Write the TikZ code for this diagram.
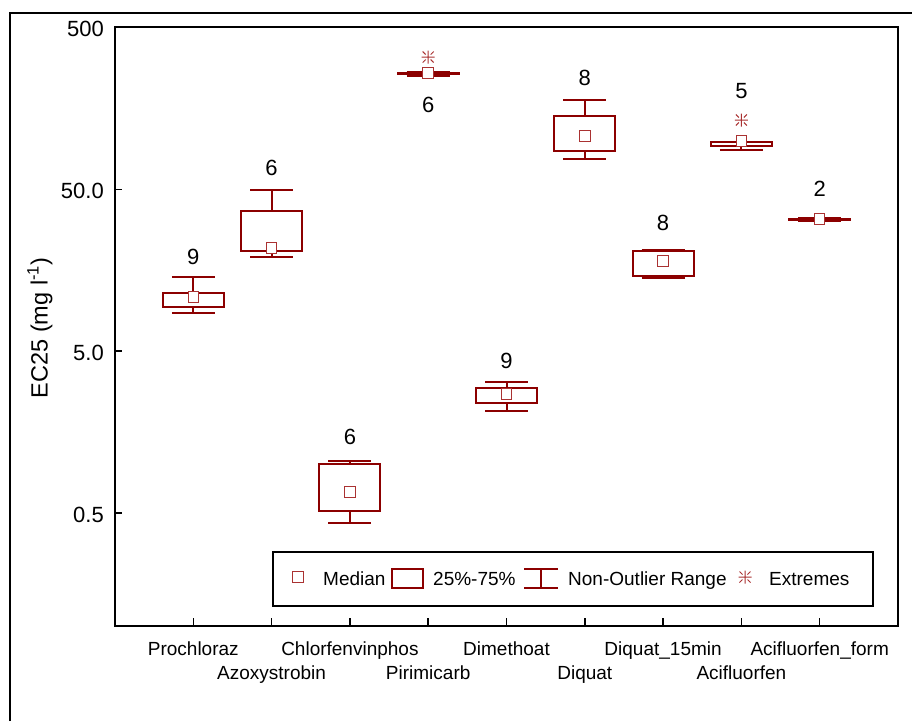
\documentclass[tikz,border=0pt]{standalone}
\usepackage{fontspec}
\setmainfont{Liberation Sans}
\newcommand{\myfs}[1]{\fontsize{#1}{#1}\selectfont}
\definecolor{bxred}{RGB}{140,0,0}
\definecolor{mdred}{RGB}{170,50,50}
\tikzset{
  whisk/.style={draw=bxred, line width=2pt},
  boxst/.style={draw=bxred, line width=2pt},
  medsq/.style={draw=mdred, fill=white, line width=1pt, rectangle, minimum size=10.5pt, inner sep=0pt},
  axisln/.style={draw=black, line width=2pt},
  ticklab/.style={font=\myfs{22}, inner sep=0pt, anchor=base east},
  catlab/.style={font=\myfs{19}, inner sep=0pt, anchor=base},
  numlab/.style={font=\myfs{22}, inner sep=0pt},
  leglab/.style={font=\myfs{19}, inner sep=0pt, anchor=base west},
  extr/.style={draw=mdred, line width=1pt},
}
% #1 name, #2 x, #3 whisker top, #4 box top, #5 box bottom, #6 whisker bottom, #7 median
\newcommand{\bxp}[7]{%
  \draw[whisk] (#2,#3) -- (#2,#4) (#2,#5) -- (#2,#6);
  \draw[whisk] (#2-21.5,#3) -- (#2+21.5,#3) (#2-21.5,#6) -- (#2+21.5,#6);
  \draw[boxst] (#2-30.5,#4) rectangle (#2+30.5,#5);
  \node[medsq] (#1) at (#2,#7) {};
}
\newcommand{\extstar}[2]{%
  \draw[extr] (#1-6.5,#2) -- (#1+6.5,#2) (#1,#2-6.5) -- (#1,#2+6.5)
    (#1-2.5,#2-2.5) -- (#1-5.5,#2-5.5) (#1+2.5,#2-2.5) -- (#1+5.5,#2-5.5)
    (#1-2.5,#2+2.5) -- (#1-5.5,#2+5.5) (#1+2.5,#2+2.5) -- (#1+5.5,#2+5.5);
}
\begin{document}
\begin{tikzpicture}[x=1pt, y=-1pt]
\useasboundingbox (0,0) rectangle (912,721);
% outer frame
\draw[line width=2pt] (10,721) -- (10,13) -- (912,13);
% plot frame
\draw[axisln] (115,27) rectangle (898,626);
% y ticks
\foreach \yy/\lab in {27/500, 189.5/50.0, 351/5.0, 513/0.5}{
  \draw[line width=1.5pt] (115,\yy) -- (122,\yy);
  \node[ticklab] at (104,\yy+9) {\lab};
}
% x ticks
\foreach \i in {1,...,9}{
  \draw[line width=1.5pt] (115+78.3*\i,626) -- (115+78.3*\i,618);
}
% category labels
\node[catlab] (c1) at (193.3,655) {Prochloraz};
\node[catlab] (c2) at (271.6,679) {Azoxystrobin};
\node[catlab] (c3) at (349.9,655) {Chlorfenvinphos};
\node[catlab] (c4) at (428.2,679) {Pirimicarb};
\node[catlab] (c5) at (506.5,655) {Dimethoat};
\node[catlab] (c6) at (584.8,679) {Diquat};
\node[catlab] (c7) at (663.1,655) {Diquat\_15min};
\node[catlab] (c8) at (741.4,679) {Acifluorfen};
\node[catlab] (c9) at (819.7,655) {Acifluorfen\_form};
% y axis label
\node[font=\myfs{23.5}, rotate=90, inner sep=0pt] (ylab) at (40,328) {EC25 (mg l\textsuperscript{-1})};
% boxes
\bxp{m1}{193.3}{277}{293}{307}{313}{297}
\bxp{m2}{271.6}{190}{211}{251}{257}{248}
\bxp{m3}{349.9}{461}{464}{511}{523}{492}
\bxp{m4}{428.2}{72}{73}{74}{75.5}{73}
\bxp{m5}{506.5}{382}{388}{403}{411}{394}
\bxp{m6}{584.8}{100}{116}{151}{159}{136}
\bxp{m7}{663.1}{249.5}{251}{276}{277.5}{261}
\bxp{m8}{741.4}{141.5}{142}{146}{150}{141}
\bxp{m9}{819.7}{218}{219}{219.5}{220.5}{219}
% extremes
\extstar{428.2}{57}
\extstar{741.4}{120}
% counts
\node[numlab] (n1) at (193.3,257) {9};
\node[numlab] (n2) at (271.6,168) {6};
\node[numlab] (n3) at (349.9,437) {6};
\node[numlab] (n4) at (428.2,105) {6};
\node[numlab] (n5) at (506.5,361) {9};
\node[numlab] (n6) at (584.8,78) {8};
\node[numlab] (n7) at (663.1,223) {8};
\node[numlab] (n8) at (741.4,91) {5};
\node[numlab] (n9) at (819.7,189) {2};
% legend
\draw[fill=white, line width=1.5pt] (273,552) rectangle (873,606);
\node[medsq] (lm) at (298,577) {};
\node[leglab] (lt1) at (323,585) {Median};
\draw[boxst] (392,569) rectangle (423,588);
\node[leglab] (lt2) at (433,585) {25\%-75\%};
\draw[whisk] (524,569) -- (558,569) (524,588) -- (558,588) (541,569) -- (541,588);
\node[leglab] (lt3) at (568,585) {Non-Outlier Range};
\extstar{745}{577}
\node[leglab] (lt4) at (769,585) {Extremes};
\end{tikzpicture}
\end{document}
